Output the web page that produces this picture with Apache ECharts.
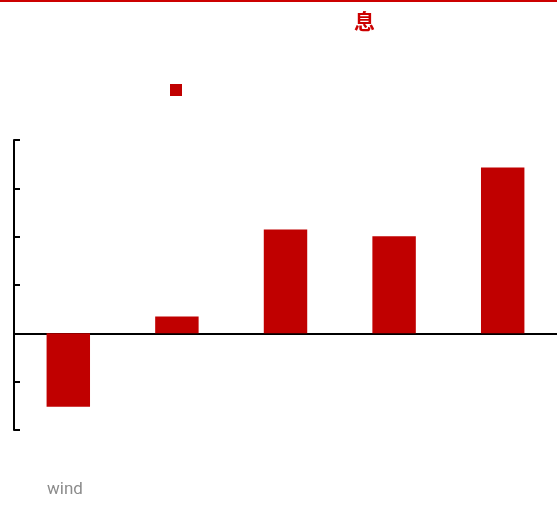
<!DOCTYPE html>
<html>
<head>
<meta charset="utf-8">
<script src="https://cdn.jsdelivr.net/npm/echarts@6/dist/echarts.min.js"></script>
<style>html,body{margin:0;padding:0;background:#fff}#c{width:557px;height:508px}</style>
</head>
<body>
<div id="c"></div>
<script>
const categories = ['A', 'B', 'C', 'D', 'E'];
const values = [-15.2, 3.5, 21.5, 20.1, 34.3];
const titleText = '息';
const noteText = 'wind';
const seriesName = ' ';

const chart = echarts.init(document.getElementById('c'));
chart.setOption({
  animation: false,
  title: {
    text: titleText, left: 354, top: 11, padding: 0,
    textStyle: { color: '#cc0000', fontSize: 21, fontWeight: 'bold', fontFamily: 'Noto Sans CJK SC' }
  },
  legend: {
    data: [seriesName], left: 170, top: 84, padding: 0, itemWidth: 12, itemHeight: 12, icon: 'rect',
    itemGap: 0, textStyle: { fontSize: 1, color: 'rgba(0,0,0,0)' }, selectedMode: false
  },
  graphic: [
    { type: 'rect', left: 0, top: 0, shape: { width: 557, height: 2 }, style: { fill: '#cc0000' } },
    { type: 'text', left: 47, top: 481, style: { text: noteText, fill: '#8c8c8c', fontSize: 17, fontFamily: 'Roboto' } }
  ],
  grid: { left: 14, right: 0, top: 140, bottom: 78, containLabel: false },
  xAxis: {
    type: 'category', data: categories,
    axisLine: { onZero: true, lineStyle: { color: '#000', width: 2 } },
    axisTick: { show: false }, axisLabel: { show: false }, splitLine: { show: false }
  },
  yAxis: {
    type: 'value', min: -20, max: 40, interval: 10,
    axisLine: { show: true, lineStyle: { color: '#000', width: 2 } },
    axisTick: { show: true, inside: true, length: 6, lineStyle: { color: '#000', width: 2 } },
    axisLabel: { show: false }, splitLine: { show: false }
  },
  series: [{
    name: seriesName, type: 'bar', data: values, barWidth: '40%',
    itemStyle: { color: '#c00000' }
  }]
});
</script>
</body>
</html>
